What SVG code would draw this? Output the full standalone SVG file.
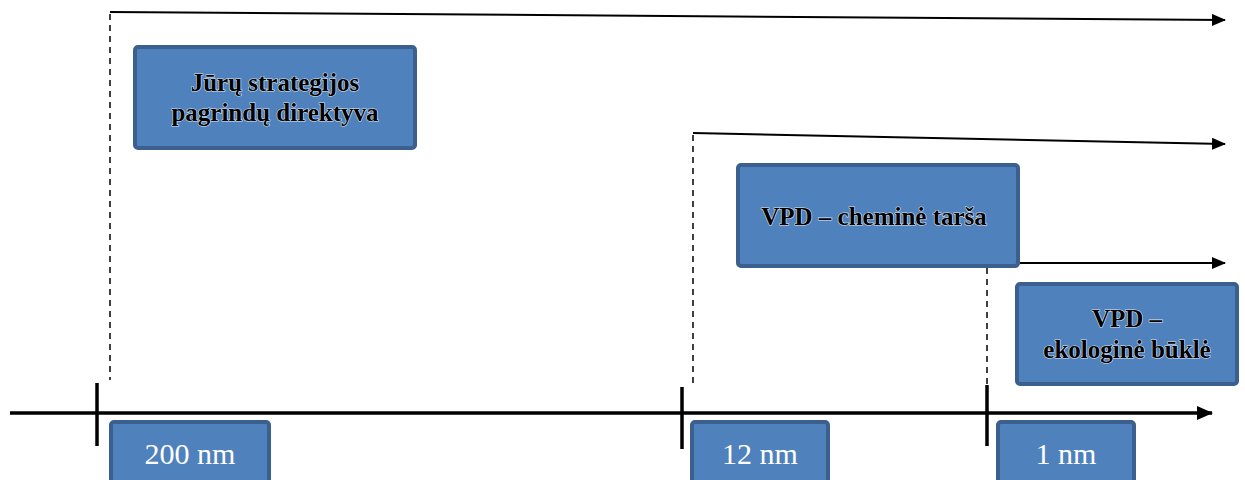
<svg xmlns="http://www.w3.org/2000/svg" width="1245" height="480" viewBox="0 0 1245 480">
<style>
.box{fill:#4F81BD;stroke:#3B5F8E;stroke-width:4}
.t{font-family:"Liberation Serif",serif;font-size:25px;font-weight:bold;text-anchor:middle;fill:#000;stroke:#dde6f2;stroke-width:1.2;paint-order:stroke}
.w{font-family:"Liberation Serif",serif;font-size:30px;text-anchor:middle;fill:#fff}
.ln{stroke:#000;stroke-width:2;fill:none}
.dash{stroke:#000;stroke-width:1.5;stroke-dasharray:6,5;fill:none}
.ax{stroke:#000;stroke-width:3.5;fill:none}
</style>
<defs>
<marker id="ah" markerWidth="14" markerHeight="12" refX="13" refY="6" orient="auto" markerUnits="userSpaceOnUse">
<path d="M0,0 L14,6 L0,12 Z" fill="#000"/>
</marker>
<marker id="ah2" markerWidth="16" markerHeight="14" refX="15" refY="7" orient="auto" markerUnits="userSpaceOnUse">
<path d="M0,0 L16,7 L0,14 Z" fill="#000"/>
</marker>
</defs>
<g id="connectors">
<line class="ln" x1="110" y1="12" x2="1225" y2="20" marker-end="url(#ah)"/>
<line class="dash" x1="110" y1="14" x2="110" y2="380"/>
<line class="ln" x1="693" y1="133" x2="1225" y2="144" marker-end="url(#ah)"/>
<line class="dash" x1="693" y1="135" x2="693" y2="385"/>
<line class="ln" x1="1020" y1="263" x2="1225" y2="263" marker-end="url(#ah)"/>
<line class="dash" x1="987" y1="268" x2="987" y2="385"/>
<line class="ax" x1="10" y1="413" x2="1212" y2="413" marker-end="url(#ah2)"/>
<line class="ax" x1="97" y1="383" x2="97" y2="446"/>
<line class="ax" x1="682" y1="387" x2="682" y2="449"/>
<line class="ax" x1="987" y1="385" x2="987" y2="446"/>
</g>
<g id="n1">
<rect class="box" x="135" y="47" width="280" height="101" rx="3"/>
<text class="t" x="275" y="91">Jūrų strategijos</text>
<text class="t" x="275" y="121">pagrindų direktyva</text>
</g>
<g id="n2">
<rect class="box" x="738" y="165" width="280" height="101" rx="3"/>
<text class="t" x="874" y="225">VPD – cheminė tarša</text>
</g>
<g id="n3">
<rect class="box" x="1017" y="284" width="220" height="100" rx="3"/>
<text class="t" x="1127" y="327">VPD –</text>
<text class="t" x="1127" y="358">ekologinė būklė</text>
</g>
<g id="l1">
<rect class="box" x="111" y="422" width="158" height="62" rx="3"/>
<text class="w" x="190" y="464">200 nm</text>
</g>
<g id="l2">
<rect class="box" x="692" y="422" width="136" height="62" rx="3"/>
<text class="w" x="760" y="464">12 nm</text>
</g>
<g id="l3">
<rect class="box" x="998" y="422" width="136" height="62" rx="3"/>
<text class="w" x="1066" y="464">1 nm</text>
</g>
</svg>
